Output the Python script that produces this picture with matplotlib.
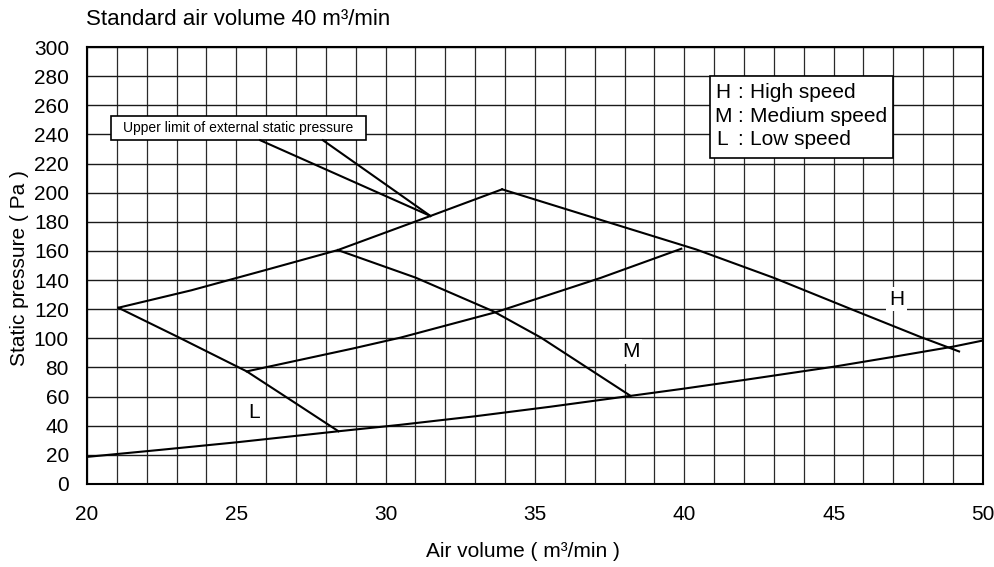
import matplotlib
matplotlib.use("Agg")
import matplotlib.pyplot as plt
from matplotlib.patches import Rectangle

plt.rcParams["font.family"] = ["Liberation Sans", "DejaVu Sans"]

# System resistance curve (bottom)
sys_x = [20, 22.44, 25, 28.42, 30.48, 33, 35.5, 38.2, 40, 42, 45, 47, 49, 50]
sys_y = [18.6, 23.4, 28.6, 36.2, 40.6, 46.5, 53, 60.5, 65.5, 71.4, 80.5, 87.3, 94.3, 98.5]

# Upper limit of external static pressure
upper_x = [21.05, 23.5, 26, 28.4, 31.5, 33.9]
upper_y = [121, 133, 147, 160.6, 184, 202.3]

# Second upper limit line
upper2_x = [25.35, 28.9, 30.5, 33.7, 37.2, 39.9]
upper2_y = [77.3, 93, 100.5, 118, 141.5, 161.5]

# Fan curves
h_x = [33.9, 37.5, 40.4, 43, 45.65, 47.9, 49.2]
h_y = [202.3, 179.4, 161, 141.5, 119.5, 101, 91]
m_x = [28.4, 31, 33.6, 35.2, 38.2]
m_y = [160.6, 141.7, 118.6, 100.5, 60.5]
l_x = [21.05, 23, 25.35, 26.9, 28.42]
l_y = [121, 101.4, 77.3, 56.6, 36.2]

curve_labels = ["H", "M", "L"]
label_x = [47.1, 38.2, 25.6]
label_y = [127, 91, 49]

legend_keys = ["H", "M", "L"]
legend_desc = ["High speed", "Medium speed", "Low speed"]

fig = plt.figure(figsize=(9.95, 5.67), dpi=100)
ax = fig.add_axes([0.0874, 0.1464, 0.9005, 0.7707])

ax.set_xlim(20, 50)
ax.set_ylim(0, 300)
ax.set_xticks(range(20, 51, 5))
ax.set_xticks(range(20, 51), minor=True)
ax.set_yticks(range(0, 301, 20))
ax.tick_params(axis="both", which="both", length=0, labelsize=15)
ax.tick_params(axis="x", pad=15)
ax.tick_params(axis="y", pad=13)
ax.grid(axis="x", which="both", color="#2a2a2a", linewidth=0.9)
ax.grid(axis="y", which="major", color="#1a1a1a", linewidth=1.0)
ax.set_axisbelow(True)
for s in ax.spines.values():
    s.set_linewidth(1.5)
    s.set_color("black")

lw = 1.5
ax.plot(sys_x, sys_y, color="black", linewidth=lw)
ax.plot(upper_x, upper_y, color="black", linewidth=lw)
ax.plot(upper2_x, upper2_y, color="black", linewidth=lw)
ax.plot(h_x, h_y, color="black", linewidth=lw)
ax.plot(m_x, m_y, color="black", linewidth=lw)
ax.plot(l_x, l_y, color="black", linewidth=lw)

for t, x, y in zip(curve_labels, label_x, label_y):
    ax.text(x, y, t, fontsize=15, ha="center", va="center",
            bbox=dict(facecolor="white", edgecolor="none", pad=2))

# callout box
ax.add_patch(Rectangle((20.8, 236), 8.54, 16.6, facecolor="white",
                       edgecolor="black", linewidth=1.2, zorder=3))
ax.text(25.07, 244.3, "Upper limit of external static pressure", fontsize=10,
        ha="center", va="center", zorder=4)
ax.plot([25.8, 31.5], [236, 184], color="black", linewidth=lw, zorder=3)
ax.plot([27.9, 31.5], [236, 184], color="black", linewidth=lw, zorder=3)

# legend box
ax.add_patch(Rectangle((40.86, 223.7), 6.13, 56.2, facecolor="white",
                       edgecolor="black", linewidth=1.2, zorder=3))
for i, (k, d) in enumerate(zip(legend_keys, legend_desc)):
    yy = 269 - i * 16.4
    ax.text(41.28, yy, k, fontsize=15, ha="center", va="center", zorder=4)
    ax.text(41.86, yy, ":", fontsize=15, ha="center", va="center", zorder=4)
    ax.text(42.2, yy, d, fontsize=15, ha="left", va="center", zorder=4)

fig.text(0.0865, 0.966, "Standard air volume 40 m³/min", fontsize=16,
         ha="left", va="center")
fig.text(0.020, 0.528, "Static pressure ( Pa )", fontsize=15, rotation=90,
         ha="center", va="center")
fig.text(0.526, 0.028, "Air volume ( m³/min )", fontsize=15, ha="center", va="center")

fig.savefig("out.png", dpi=100)
